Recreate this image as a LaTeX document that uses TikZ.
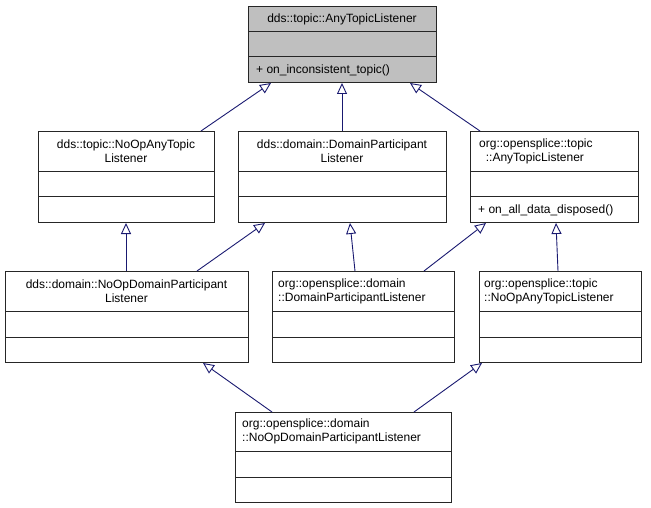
\documentclass[tikz,border=0pt]{standalone}
\usepackage{fontspec}
\setmainfont{Liberation Sans}
\usetikzlibrary{arrows.meta}
\definecolor{edge}{HTML}{191970}
\tikzset{
  box/.style={draw=black!85, line width=1pt, inner sep=0pt, anchor=north west},
  gbox/.style={box, fill=black!25},
  txt/.style={font=\fontsize{12}{14}\selectfont, inner sep=0pt},
  inh/.style={draw=edge, line width=0.9pt, -{Triangle[open,length=11pt,width=10pt,fill=white]}},
  div/.style={draw=black!85, line width=1pt}
}
% name, x1, y1, x2, y2, d1, d2, style
\newcommand{\umlbox}[8]{%
  \node[#8, minimum width=#4pt-#2pt, minimum height=#5pt-#3pt] (#1) at (#2,#3) {};
  \draw[div] (#2,#6) -- (#4,#6) (#2,#7) -- (#4,#7);
}
\begin{document}
\begin{tikzpicture}[x=1pt,y=-1pt]
\useasboundingbox (0,0) rectangle (651,508);
\umlbox{top}{248}{6}{436}{82}{32}{57}{gbox}
\node[txt] (topt) at (342,19) {dds::topic::AnyTopicListener};
\node[txt, anchor=west] (topm) at (256,70) {+ on\_inconsistent\_topic()};

\umlbox{b2}{38}{131}{214}{222}{172}{197}{box}
\node[txt, align=center] (b2t) at (126,151.5) {dds::topic::NoOpAnyTopic\\Listener};
\umlbox{b3}{238}{131}{446}{222}{172}{197}{box}
\node[txt, align=center] (b3t) at (342,151.5) {dds::domain::DomainParticipant\\Listener};
\umlbox{b4}{470}{131}{638}{222}{172}{197}{box}
\node[txt, align=left, anchor=west] (b4t) at (479,151.5) {org::opensplice::topic\\\ \ ::AnyTopicListener};
\node[txt, anchor=west] (b4m) at (478,210) {+ on\_all\_data\_disposed()};

\umlbox{b5}{5}{271}{248}{362}{311}{337}{box}
\node[txt, align=center] (b5t) at (126.5,291) {dds::domain::NoOpDomainParticipant\\Listener};
\umlbox{b6}{272}{271}{454}{362}{311}{337}{box}
\node[txt, align=left, anchor=west] (b6t) at (278,291) {org::opensplice::domain\\::DomainParticipantListener};
\umlbox{b7}{479}{271}{641}{362}{311}{337}{box}
\node[txt, align=left, anchor=west] (b7t) at (484,291) {org::opensplice::topic\\::NoOpAnyTopicListener};

\umlbox{b8}{235}{412}{451}{502}{451}{477}{box}
\node[txt, align=left, anchor=west] (b8t) at (242,431.5) {org::opensplice::domain\\::NoOpDomainParticipantListener};

\draw[inh] (201,0 |- b2.north) -- (271,0 |- top.south);
\draw[inh] (342,0 |- b3.north) -- (342,0 |- top.south);
\draw[inh] (480,0 |- b4.north) -- (410,0 |- top.south);
\draw[inh] (126,0 |- b5.north) -- (126,0 |- b2.south);
\draw[inh] (197,0 |- b5.north) -- (265,0 |- b3.south);
\draw[inh] (355,0 |- b6.north) -- (350,0 |- b3.south);
\draw[inh] (424,0 |- b6.north) -- (486,0 |- b4.south);
\draw[inh] (558,0 |- b7.north) -- (556,0 |- b4.south);
\draw[inh] (272,0 |- b8.north) -- (203,0 |- b5.south);
\draw[inh] (414,0 |- b8.north) -- (482,0 |- b7.south);
\end{tikzpicture}
\end{document}
